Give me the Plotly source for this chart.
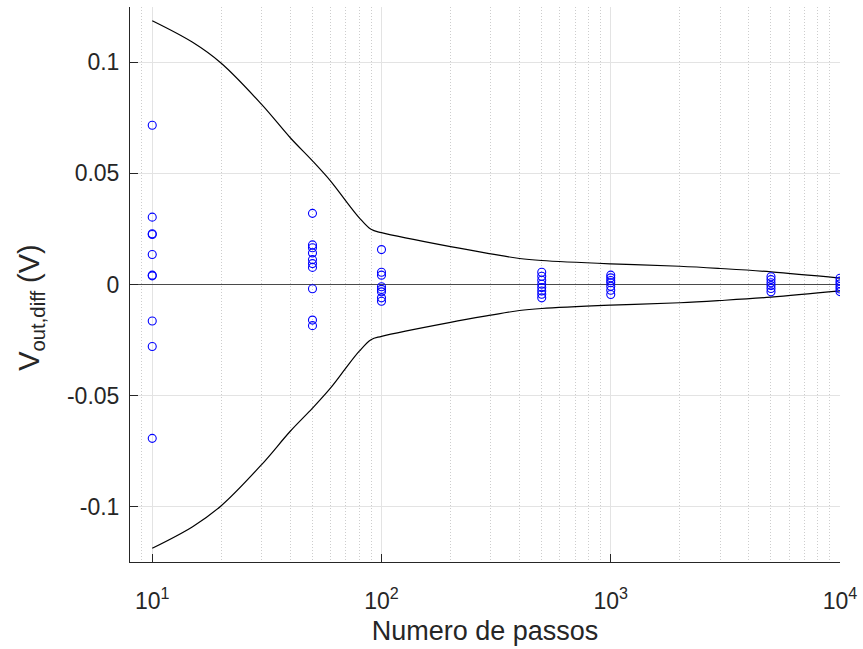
import plotly.graph_objects as go

# Differential output voltage samples for each number of steps
steps = [10, 50, 100, 500, 1000, 5000, 10000]
v_diff = {
    10: [0.0716, 0.0303, 0.0228, 0.0225, 0.0135, 0.0042, 0.0039, -0.0164, -0.0279, -0.0692],
    50: [0.0320, 0.0178, 0.0165, 0.0142, 0.0112, 0.0094, 0.0077, -0.0019, -0.0160, -0.0185],
    100: [0.0157, 0.0055, 0.0042, -0.0010, -0.0022, -0.0033, -0.0060, -0.0075],
    500: [0.0055, 0.0037, 0.0019, 0.0001, -0.0014, -0.0029, -0.0044, -0.0060],
    1000: [0.0042, 0.0030, 0.0018, 0.0008, -0.0008, -0.0026, -0.0045],
    5000: [0.0035, 0.0022, 0.0008, -0.0005, -0.0018, -0.0033],
    10000: [0.0028, 0.0015, 0.0003, -0.0009, -0.0020, -0.0032],
}

# Envelope (bound) of the spread versus number of steps
env_steps = [10, 15, 20, 30, 40, 50, 60, 70, 80, 90, 100, 200, 300, 400, 500,
             1000, 2000, 3000, 5000, 10000]
env_bound = [0.1186, 0.1089, 0.0995, 0.0810, 0.0660, 0.0556, 0.0465, 0.0375,
             0.0300, 0.0248, 0.0233, 0.0170, 0.0138, 0.0117, 0.0108, 0.0093,
             0.0082, 0.0072, 0.0057, 0.0029]

y_ticks = [-0.1, -0.05, 0, 0.05, 0.1]
y_tick_text = ["-0.1", "-0.05", "0", "0.05", "0.1"]
x_ticks = [10, 100, 1000, 10000]
x_tick_text = ["10<sup>1</sup>", "10<sup>2</sup>", "10<sup>3</sup>", "10<sup>4</sup>"]

xs, ys = [], []
for n in steps:
    xs += [n] * len(v_diff[n])
    ys += v_diff[n]

fig = go.Figure()

env_line = dict(color="black", width=1.2, shape="spline", smoothing=1.0)
fig.add_trace(go.Scatter(
    x=env_steps, y=env_bound, mode="lines", line=env_line,
    showlegend=False, hoverinfo="skip"))
fig.add_trace(go.Scatter(
    x=env_steps, y=[-v for v in env_bound], mode="lines", line=env_line,
    showlegend=False, hoverinfo="skip"))

fig.add_trace(go.Scatter(
    x=xs, y=ys, mode="markers",
    marker=dict(symbol="circle-open", size=8, color="#0000ff",
                line=dict(width=1.1, color="#0000ff")),
    showlegend=False))

font_family = "Liberation Sans, Arial, sans-serif"

fig.update_layout(
    width=863, height=649,
    margin=dict(l=130, r=23, t=7, b=87),
    plot_bgcolor="white", paper_bgcolor="white",
    font=dict(family=font_family, color="#262626"),
)

fig.update_xaxes(
    type="log", range=[0.903, 4.0],
    tickvals=x_ticks, ticktext=x_tick_text,
    tickfont=dict(size=23, color="#262626"),
    ticks="inside", ticklen=8, tickcolor="#262626",
    showline=True, linecolor="#262626", linewidth=1, mirror=False,
    showgrid=True, gridcolor="#e3e3e3", gridwidth=1,
    minor=dict(dtick="D1", showgrid=True, gridcolor="#cdcdcd",
               griddash="1px,2px", gridwidth=1, ticks=""),
    ticklabelstandoff=18,
    title=dict(text="Numero de passos", font=dict(size=27, color="#262626"),
               standoff=8),
    zeroline=False,
)

fig.update_yaxes(
    range=[-0.1248, 0.1248],
    tickvals=y_ticks, ticktext=y_tick_text,
    tickfont=dict(size=23, color="#262626"),
    ticks="inside", ticklen=8, tickcolor="#262626",
    showline=True, linecolor="#262626", linewidth=1, mirror=False,
    showgrid=True, gridcolor="#e3e3e3", gridwidth=1,
    zeroline=True, zerolinecolor="#4a4a4a", zerolinewidth=1.3,
    ticklabelstandoff=5,
)

# Vertical axis label, placed as a rotated annotation left of the tick labels
fig.add_annotation(
    text="V<sub>out,diff</sub> (V)", textangle=-90,
    xref="paper", yref="paper", x=0, y=0.458,
    xanchor="center", yanchor="middle", xshift=-99, showarrow=False,
    font=dict(size=29, color="#262626", family=font_family),
)

fig.write_html("out.html")
